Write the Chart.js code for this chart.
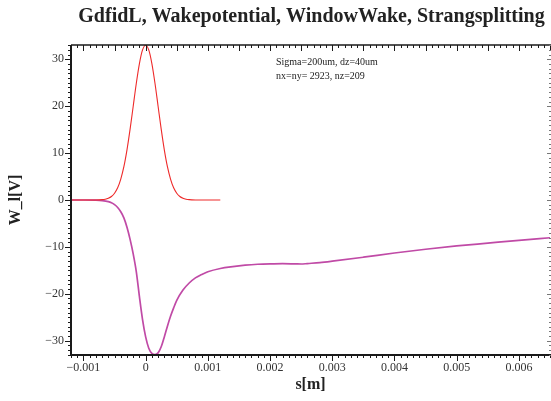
<!DOCTYPE html>
<html><head><meta charset="utf-8">
<script src="https://cdn.jsdelivr.net/npm/chart.js@4/dist/chart.umd.min.js"></script>
<style>html,body{margin:0;padding:0;background:#fff}#wrap{width:551px;height:401px}</style>
</head><body><div id="wrap"><canvas id="c" width="551" height="401"></canvas></div>
<script>
const chartTitle = 'GdfidL, Wakepotential, WindowWake, Strangsplitting';
const noteLines = ['Sigma=200um, dz=40um', 'nx=ny= 2923, nz=209'];
const xAxisTitle = 's[m]';
const yAxisTitle = 'W_l[V]';
const xTicks = [-0.001, 0, 0.001, 0.002, 0.003, 0.004, 0.005, 0.006];
const xTickLabels = ['\u22120.001', '0', '0.001', '0.002', '0.003', '0.004', '0.005', '0.006'];
const yTicks = [-30, -20, -10, 0, 10, 20, 30];
const yTickLabels = ['\u221230', '\u221220', '\u221210', '0', '10', '20', '30'];

// bunch (red)
const sBunch = [-0.0012, -0.0011, -0.001, -0.0009, -0.0008, -0.0007, -0.00065, -0.0006, -0.00055, -0.0005, -0.00045, -0.0004, -0.00035, -0.0003, -0.00025, -0.0002, -0.00015, -0.0001, -0.00005, 0,
  0.00005, 0.0001, 0.00015, 0.0002, 0.00025, 0.0003, 0.00035, 0.0004, 0.00045, 0.0005, 0.00055, 0.0006, 0.00065, 0.0007, 0.0008, 0.0009, 0.001, 0.0011, 0.0012];
const wBunch = [0, 0, 0, 0, 0.01, 0.07, 0.16, 0.37, 0.75, 1.45, 2.6, 4.47, 7.1, 10.7, 15.1, 20.0, 24.9, 29.1, 32.0, 33.0,
  32.0, 29.1, 24.9, 20.0, 15.1, 10.7, 7.1, 4.47, 2.6, 1.45, 0.75, 0.37, 0.16, 0.07, 0.01, 0, 0, 0, 0];

// wake potential (purple)
const sWake = [-0.0012, -0.001, -0.0008, -0.0007, -0.0006, -0.00055, -0.0005, -0.00045, -0.0004, -0.00035, -0.0003, -0.00025, -0.0002, -0.00015, -0.0001, -0.00005, 0,
  0.00005, 0.0001, 0.00015, 0.0002, 0.00025, 0.0003, 0.00035, 0.0004, 0.00045, 0.0005, 0.0006, 0.0007, 0.0008, 0.0009, 0.001, 0.0012, 0.0014, 0.0016, 0.0018, 0.002, 0.0022, 0.0024, 0.0025, 0.0026, 0.0028, 0.003, 0.0035, 0.004, 0.0045, 0.005, 0.0055, 0.006, 0.0065];
const wWake = [0, 0, -0.03, -0.12, -0.35, -0.6, -1.0, -1.6, -2.5, -3.8, -5.8, -8.4, -11.5, -15.3, -20.6, -25.5, -29.2,
  -31.6, -32.7, -32.95, -32.6, -31.3, -29.2, -26.9, -24.8, -23.0, -21.4, -19.2, -17.7, -16.6, -15.9, -15.3, -14.6, -14.2, -13.9, -13.7, -13.6, -13.55, -13.6, -13.65, -13.55, -13.35, -13.05, -12.2, -11.3, -10.5, -9.8, -9.2, -8.6, -8.05];

const SERIF = '"Liberation Serif", "DejaVu Serif", serif';

const framePlugin = {
  id: 'frame',
  afterDraw(chart) {
    const ctx = chart.ctx;
    const a = chart.chartArea;
    const xs = chart.scales.x, ys = chart.scales.y;
    ctx.save();
    // title
    ctx.fillStyle = '#222';
    ctx.font = 'bold 20px ' + SERIF;
    ctx.textAlign = 'center';
    ctx.textBaseline = 'alphabetic';
    ctx.fillText(chartTitle, (a.left + a.right) / 2 + 1, 22);
    // note
    ctx.font = '10px ' + SERIF;
    ctx.textAlign = 'left';
    ctx.fillText(noteLines[0], 276, 65);
    ctx.fillText(noteLines[1], 276, 79);
    // frame
    ctx.strokeStyle = '#1a1a1a';
    ctx.lineWidth = 2;
    ctx.beginPath();
    ctx.moveTo(a.left, a.top); ctx.lineTo(a.left, a.bottom); ctx.lineTo(a.right + 1, a.bottom);
    ctx.stroke();
    ctx.lineWidth = 1.5;
    ctx.beginPath();
    ctx.moveTo(a.left, a.top); ctx.lineTo(a.right + 1, a.top);
    ctx.stroke();
    ctx.lineWidth = 1;
    // x ticks
    const xmin = xs.min, xmax = xs.max;
    for (let i = Math.ceil(xmin / 0.0001 - 1e-6); i * 0.0001 <= xmax + 1e-9; i++) {
      const v = i * 0.0001;
      const px = Math.round(xs.getPixelForValue(v)) + 0.5;
      const major = i % 10 === 0;
      const mid = i % 5 === 0;
      ctx.beginPath();
      ctx.moveTo(px, a.bottom); ctx.lineTo(px, a.bottom + (major ? 6 : 3));
      ctx.moveTo(px, a.top); ctx.lineTo(px, a.top + (mid ? 6 : 3));
      ctx.stroke();
    }
    // y ticks
    for (let i = Math.ceil(ys.min); i <= ys.max; i++) {
      const py = Math.round(ys.getPixelForValue(i)) + 0.5;
      const major = i % 10 === 0;
      ctx.strokeStyle = '#1a1a1a';
      ctx.beginPath();
      ctx.moveTo(a.left, py); ctx.lineTo(a.left - (major ? 6 : 3), py);
      ctx.stroke();
      ctx.strokeStyle = '#777';
      ctx.beginPath();
      ctx.moveTo(a.right + 1, py); ctx.lineTo(a.right + 1 - (major ? 4 : 2), py);
      ctx.stroke();
    }
    ctx.restore();
  }
};

const toPts = (xs, ys) => xs.map((x, i) => ({ x: x, y: ys[i] }));

new Chart(document.getElementById('c'), {
  type: 'line',
  data: {
    datasets: [
      { label: 'bunch', data: toPts(sBunch, wBunch), borderColor: '#ee2a2a', borderWidth: 1.1, pointRadius: 0, cubicInterpolationMode: 'monotone', fill: false },
      { label: 'wake', data: toPts(sWake, wWake), borderColor: '#c04aa6', borderWidth: 1.7, pointRadius: 0, cubicInterpolationMode: 'monotone', fill: false }
    ]
  },
  options: {
    responsive: false,
    devicePixelRatio: 1,
    animation: false,
    layout: { padding: { left: 0, right: 1, top: 45, bottom: 0 } },
    plugins: { legend: { display: false }, title: { display: false }, tooltip: { enabled: false } },
    scales: {
      x: {
        type: 'linear', min: -0.0012, max: 0.0065,
        grid: { display: false, drawTicks: false }, border: { display: false },
        afterBuildTicks: s => { s.ticks = xTicks.map(v => ({ value: v })); },
        afterFit: s => { s.height = 46; },
        ticks: { font: { family: SERIF, size: 12 }, color: '#333', padding: 6, maxRotation: 0, autoSkip: false,
          callback: (v) => { const i = xTicks.findIndex(t => Math.abs(t - v) < 1e-9); return i >= 0 ? xTickLabels[i] : ''; } },
        title: { display: true, text: xAxisTitle, font: { family: SERIF, size: 16, weight: 'bold' }, color: '#222', padding: { top: 0, bottom: 7 } }
      },
      y: {
        type: 'linear', min: -33.05, max: 33.05,
        grid: { display: false, drawTicks: false }, border: { display: false },
        afterBuildTicks: s => { s.ticks = yTicks.map(v => ({ value: v })); },
        afterFit: s => { s.width = 71; },
        ticks: { font: { family: SERIF, size: 12 }, color: '#333', padding: 7, autoSkip: false,
          callback: (v) => { const i = yTicks.indexOf(v); return i >= 0 ? yTickLabels[i] : ''; } },
        title: { display: true, text: yAxisTitle, font: { family: SERIF, size: 16, weight: 'bold' }, color: '#222', padding: { top: 6, bottom: 0 } }
      }
    }
  },
  plugins: [framePlugin]
});
</script>
</body></html>
